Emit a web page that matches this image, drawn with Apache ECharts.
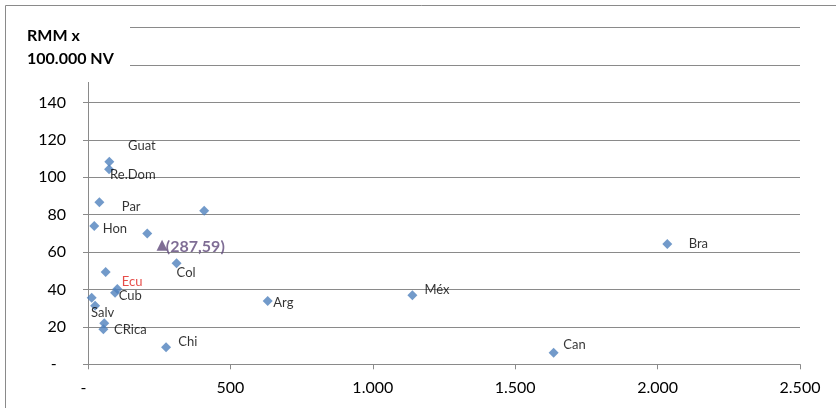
<!DOCTYPE html>
<html>
<head>
<meta charset="utf-8">
<script src="https://cdn.jsdelivr.net/npm/echarts@6/dist/echarts.min.js"></script>
<style>
html,body{margin:0;padding:0;background:#fff;}
#chart{width:836px;height:408px;}
</style>
</head>
<body>
<div id="chart"></div>
<script>
// ---- data ----
const pointX = [74.8, 74, 40, 22, 208, 408, 311, 62, 103, 95, 13, 25, 57, 54, 274, 631, 1139, 2034, 1635];
const pointY = [108.3, 104.3, 86.6, 74, 70, 82.1, 54, 49.4, 40.3, 38.3, 35.6, 31.3, 21.9, 18.7, 9.1, 33.9, 36.9, 64.3, 6.2];
const pointNames = ['Guat', 'Re.Dom', 'Par', 'Hon', '', '', 'Col', '', 'Ecu', 'Cub', 'Salv', '', '', 'CRica', 'Chi', 'Arg', 'Méx', 'Bra', 'Can'];
const avgX = [260];
const avgY = [63.6];
const avgNames = ['(287,59)'];
const xTicks = [0, 500, 1000, 1500, 2000, 2500];
const yTitle = ['RMM x', '100.000 NV'];

// ---- styles ----
const labelOffsets = [[13.7,-15.7],[-4,5.7],[17.4,4],[3.4,3],null,null,[-5,9.4],null,[-0.6,-6.7],[-1.3,3.3],[-5.7,15],null,null,[5.7,0],[7.3,-5.3],[0.6,2.3],[7,-5.3],[16.4,0],[4.6,-7.4]];
const labelColors = {'Ecu': '#E0201B'};
const FONT = 'Lato';
const GRAY = '#8a8a8a';

function fmtThousands(v) {
  if (v === 0) return '-\u2007';
  return String(v).replace(/\B(?=(\d{3})+(?!\d))/g, '.');
}

const mainData = pointX.map((x, i) => {
  const name = pointNames[i];
  const item = { value: [x, pointY[i]] };
  if (name) {
    item.label = {
      show: true,
      formatter: name,
      position: 'right',
      distance: 0,
      offset: labelOffsets[i],
      color: labelColors[name] || '#000',
      fontFamily: FONT,
      fontSize: 13
    };
  }
  return item;
});

const avgData = avgX.map((x, i) => ({
  value: [x, avgY[i]],
  label: {
    show: true,
    formatter: avgNames[i],
    position: 'right',
    distance: 0,
    offset: [-1.7, 1],
    color: '#5F497A',
    fontFamily: FONT,
    fontWeight: 'bold',
    fontSize: 16
  }
}));

const chart = echarts.init(document.getElementById('chart'), null, { renderer: 'canvas' });
chart.setOption({
  animation: false,
  backgroundColor: '#fff',
  grid: { left: 88, right: 36, top: 27.7, bottom: 43.7, containLabel: false },
  xAxis: {
    type: 'value',
    min: xTicks[0],
    max: xTicks[xTicks.length - 1],
    interval: xTicks[1] - xTicks[0],
    splitLine: { show: false },
    axisLine: { show: true, lineStyle: { color: GRAY, width: 1 } },
    axisTick: { show: true, length: 5, inside: false, lineStyle: { color: GRAY } },
    axisLabel: {
      margin: 16,
      color: '#000',
      fontFamily: FONT,
      fontSize: 16,
      formatter: fmtThousands
    }
  },
  yAxis: {
    type: 'value',
    min: 0,
    max: 180,
    interval: 20,
    splitLine: { show: true, lineStyle: { color: GRAY, width: 1 } },
    axisLine: { show: true, lineStyle: { color: GRAY, width: 1 } },
    axisTick: { show: true, length: 5, inside: false, lineStyle: { color: GRAY } },
    axisLabel: {
      margin: 22,
      color: '#000',
      fontFamily: FONT,
      fontSize: 16,
      formatter: v => (v > 140 ? '' : (v === 0 ? '-\u2007' : String(v)))
    }
  },
  series: [
    {
      type: 'scatter',
      symbol: 'diamond',
      symbolSize: 10,
      itemStyle: { color: '#4F81BD' },
      data: mainData,
      z: 3
    },
    {
      type: 'scatter',
      symbol: 'triangle',
      symbolSize: 11,
      itemStyle: { color: '#5F497A' },
      data: avgData,
      z: 4
    }
  ],
  graphic: [
    { type: 'rect', z: 100, shape: { x: 6, y: 6, width: 124, height: 76 }, style: { fill: '#fff' } },
    { type: 'rect', z: 101, shape: { x: 5.5, y: 5.5, width: 900, height: 600 }, style: { fill: 'none', stroke: GRAY, lineWidth: 1 } },
    { type: 'text', z: 102, left: 27, top: 28, style: { text: yTitle[0], font: 'bold 16px Lato', fill: '#000' } },
    { type: 'text', z: 102, left: 27, top: 51, style: { text: yTitle[1], font: 'bold 16px Lato', fill: '#000' } }
  ]
});
</script>
</body>
</html>
